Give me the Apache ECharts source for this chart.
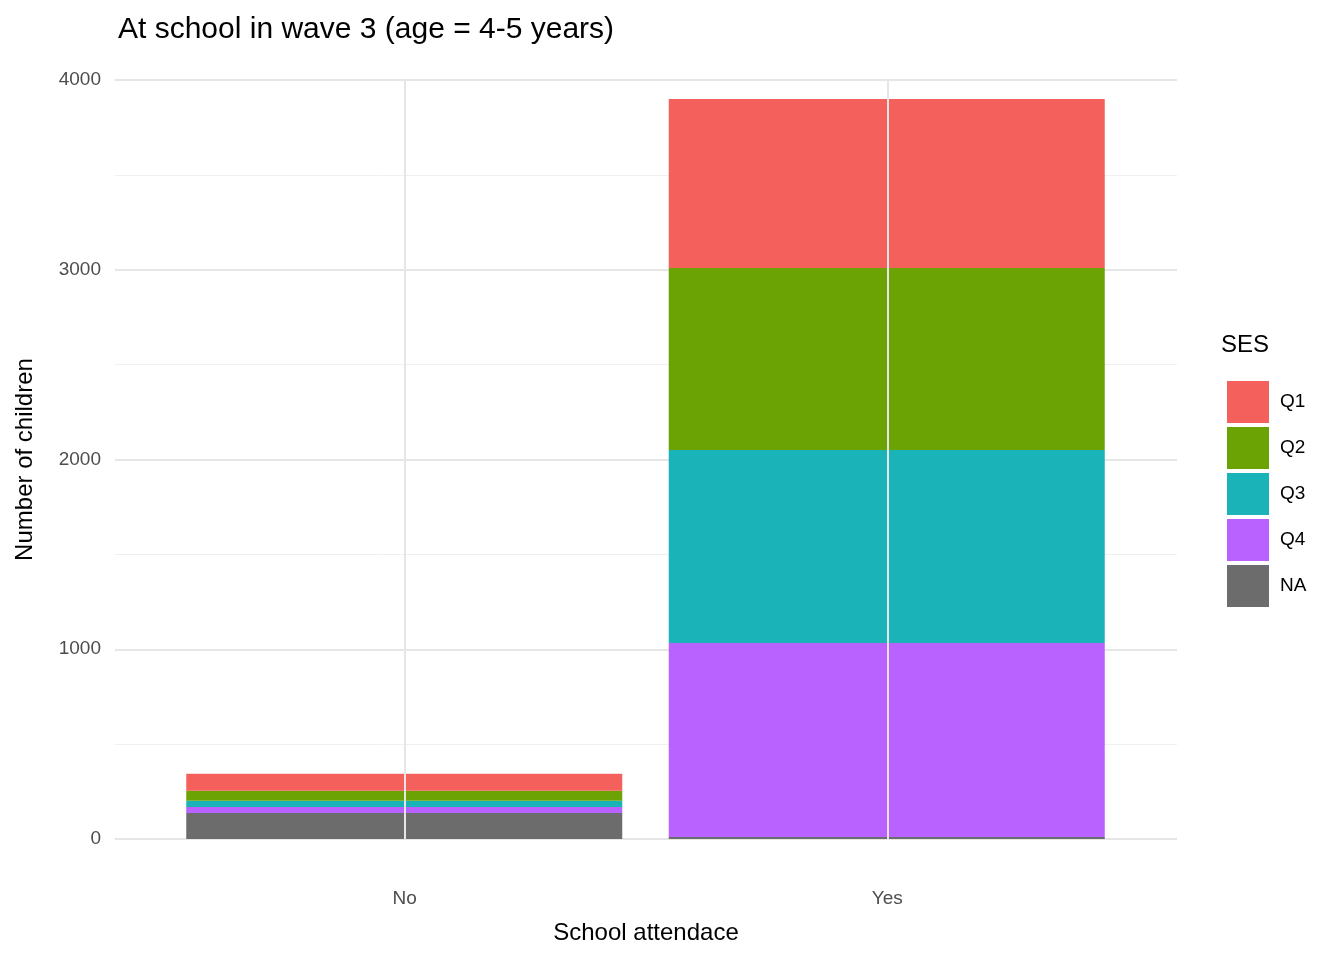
<!DOCTYPE html>
<html>
<head>
<meta charset="utf-8">
<script src="https://cdn.jsdelivr.net/npm/echarts@6/dist/echarts.min.js"></script>
<style>html,body{margin:0;background:#fff}#main{width:1344px;height:960px}</style>
</head>
<body>
<div id="main"></div>
<script>
// 数据
var categories = ['No', 'Yes'];
var groups = ['Q1', 'Q2', 'Q3', 'Q4', 'NA'];
var colors = { Q1: '#F4605B', Q2: '#6BA304', Q3: '#19B3B8', Q4: '#B962FF', NA: '#6C6C6C' };
var valuesQ1 = [90, 891];
var valuesQ2 = [53, 959];
var valuesQ3 = [32, 1017];
var valuesQ4 = [32, 1023];
var valuesNA = [137, 10];

(function() {
  var myChart = echarts.init(document.getElementById('main'));
  var byGroup = { Q1: valuesQ1, Q2: valuesQ2, Q3: valuesQ3, Q4: valuesQ4, NA: valuesNA };
  var font = 'Liberation Sans, Arial, sans-serif';

  // stack order: NA at bottom, Q1 on top (drawn in grid 1, category axis)
  var series = ['NA', 'Q4', 'Q3', 'Q2', 'Q1'].map(function(g) {
    return {
      name: g,
      type: 'bar',
      stack: 'all',
      xAxisIndex: 1,
      yAxisIndex: 1,
      barWidth: 436,
      itemStyle: { color: colors[g] },
      data: byGroup[g]
    };
  });
  // background grid: vertical lines at the category centres
  series.push({
    type: 'line',
    xAxisIndex: 0,
    yAxisIndex: 0,
    data: [],
    silent: true,
    markLine: {
      silent: true,
      symbol: ['none', 'none'],
      label: { show: false },
      lineStyle: { color: '#e6e6e6', type: 'solid', width: 2 },
      data: [{ xAxis: 1 }, { xAxis: 2 }]
    }
  });

  var option = {
    animation: false,
    title: {
      text: 'At school in wave 3 (age = 4-5 years)',
      left: 113, top: 10,
      textStyle: { fontFamily: font, fontSize: 30, fontWeight: 'normal', color: '#000' }
    },
    legend: {
      data: groups,
      orient: 'vertical',
      left: 1222, top: 376,
      itemWidth: 42, itemHeight: 42, itemGap: 4,
      icon: 'rect',
      textStyle: { fontFamily: font, fontSize: 19, color: '#000', padding: [0, 0, 0, 6] }
    },
    graphic: [{
      type: 'text', left: 1221, top: 333,
      style: { text: 'SES', font: '24px ' + font, fill: '#000' }
    }],
    grid: [
      { left: 115, right: 167, top: 80, bottom: 121 },
      { left: 163, right: 216, top: 80, bottom: 121 }
    ],
    xAxis: [{
      type: 'value',
      gridIndex: 0,
      min: 0.4, max: 2.6,
      name: 'School attendace',
      nameLocation: 'middle', nameGap: 82,
      nameTextStyle: { fontFamily: font, fontSize: 24, color: '#000' },
      axisLine: { show: false },
      axisTick: { show: false },
      splitLine: { show: false },
      axisLabel: {
        customValues: [1, 2],
        formatter: function(v) { return categories[Math.round(v) - 1]; },
        fontFamily: font, fontSize: 19, color: '#4d4d4d', margin: 50
      }
    }, {
      type: 'category',
      gridIndex: 1,
      data: categories,
      show: false
    }],
    yAxis: [{
      type: 'value',
      gridIndex: 0,
      min: 0, max: 4000, interval: 1000,
      name: 'Number of children',
      nameLocation: 'middle', nameGap: 78,
      nameTextStyle: { fontFamily: font, fontSize: 24, color: '#000' },
      axisLine: { show: false },
      axisTick: { show: false },
      axisLabel: {
        formatter: function(v) { return String(v); },
        fontFamily: font, fontSize: 19, color: '#4d4d4d', margin: 14
      },
      splitLine: { lineStyle: { color: '#e6e6e6', width: 2 } },
      minorTick: { show: false, splitNumber: 2 },
      minorSplitLine: { show: true, lineStyle: { color: '#f0f0f0', width: 1 } }
    }, {
      type: 'value',
      gridIndex: 1,
      min: 0, max: 4000,
      show: false
    }],
    series: series
  };

  myChart.setOption(option);
})();
</script>
</body>
</html>
